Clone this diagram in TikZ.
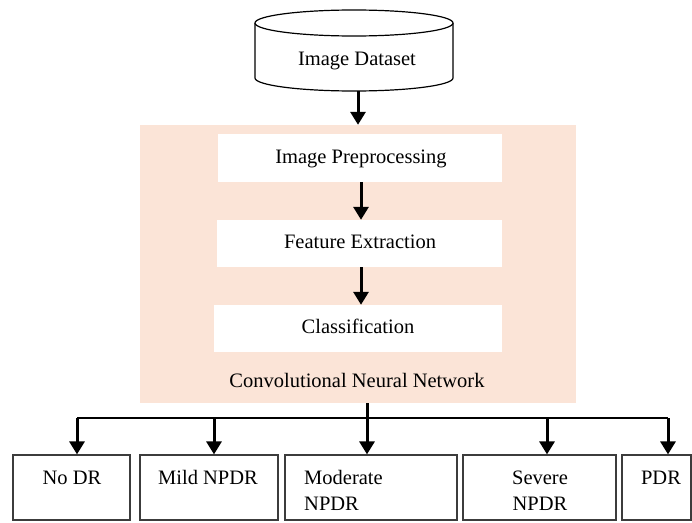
\documentclass[tikz,border=0pt]{standalone}
\usepackage{fontspec}
\setmainfont{Liberation Serif}
\usetikzlibrary{arrows.meta,calc}
\definecolor{peach}{RGB}{251,228,215}
\definecolor{edge}{RGB}{60,60,60}
\begin{document}
\begin{tikzpicture}[x=1pt,y=-1pt,
  every node/.style={font=\fontsize{20.5}{26}\selectfont, inner sep=0pt},
  wbox/.style={draw=none, fill=white},
  obox/.style={draw=edge, line width=1.2pt, fill=white},
  txt/.style={anchor=base},
  arr/.style={line width=3pt, -{Triangle[width=15pt,length=13pt]}},
  bus/.style={line width=1.8pt}]
\useasboundingbox (0,0) rectangle (692,522);
% cylinder
\draw[line width=1.2pt, fill=white] (255,23) -- (255,78) arc[start angle=180, end angle=0, x radius=99, y radius=13] -- (453,23);
\draw[line width=1.2pt, fill=white] (354,23) ellipse[x radius=99, y radius=13];
\node[txt] (ds) at (357,65) {Image Dataset};
\coordinate (dsb) at (358,91);
% CNN block
\node[fill=peach, minimum width=436, minimum height=278] (cnn) at (358,264) {};
\node[wbox, minimum width=284, minimum height=48] (pre) at (360,158) {};
\node[wbox, minimum width=285, minimum height=47] (fe) at (359.5,243.5) {};
\node[wbox, minimum width=288, minimum height=47] (cls) at (358,328.5) {};
\node[txt] (pret) at (361,163) {Image Preprocessing};
\node[txt] (fet) at (360,248) {Feature Extraction};
\node[txt] (clst) at (358,333) {Classification};
\node[txt] (cnnt) at (357,387) {Convolutional Neural Network};
\draw[arr] (dsb) -- (dsb |- cnn.north);
\draw[arr] ($(pre.south)+(1,0)$) -- ($(fe.north)+(1.5,0)$);
\draw[arr] ($(fe.south)+(1.5,0)$) -- ($(cls.north)+(3,0)$);
% output boxes
\node[obox, minimum width=117, minimum height=65] (nodr) at (71.5,487.5) {};
\node[obox, minimum width=138, minimum height=65] (mild) at (209,487.5) {};
\node[obox, minimum width=172, minimum height=65] (mod) at (371,487.5) {};
\node[obox, minimum width=153, minimum height=65] (sev) at (539.5,487.5) {};
\node[obox, minimum width=69, minimum height=65] (pdr) at (656.5,487.5) {};
\node[txt] (nodrt) at (72,484) {No DR};
\node[txt] (mildt) at (208,484) {Mild NPDR};
\node[txt, anchor=base west] (modt1) at (304,484) {Moderate};
\node[txt, anchor=base west] (modt2) at (304,510) {NPDR};
\node[txt] (sevt1) at (540,484) {Severe};
\node[txt] (sevt2) at (540,510) {NPDR};
\node[txt] (pdrt) at (661,484) {PDR};
% connectors
\coordinate (tr) at (367,403);
\coordinate (b1) at (77,418);
\coordinate (b2) at (214,418);
\coordinate (b4) at (547,418);
\coordinate (b5) at (668,418);
\draw[bus] (b1) -- (b5);
\draw[arr] (tr) -- (tr |- mod.north);
\draw[arr] (b1) -- (b1 |- nodr.north);
\draw[arr] (b2) -- (b2 |- mild.north);
\draw[arr] (b4) -- (b4 |- sev.north);
\draw[arr] (b5) -- (b5 |- pdr.north);
\end{tikzpicture}
\end{document}
